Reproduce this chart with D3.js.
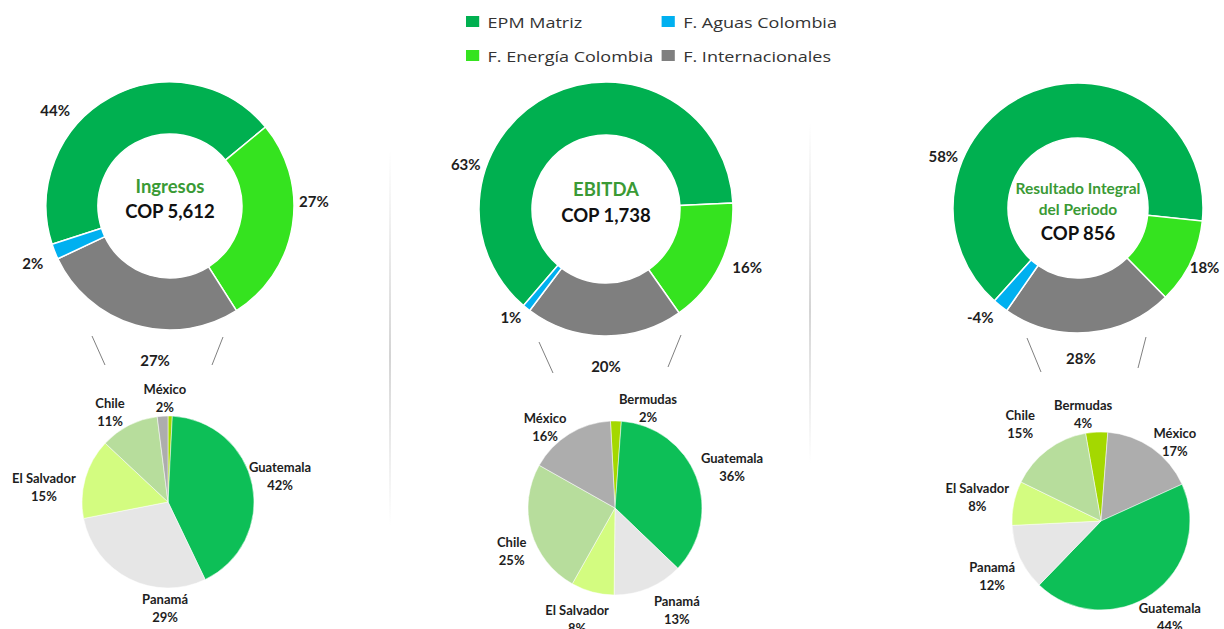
<!DOCTYPE html>
<html>
<head>
<meta charset="utf-8">
<script src="https://cdn.jsdelivr.net/npm/d3@7"></script>
<style>
  body { margin: 0; background: #fff; }
  svg { display: block; }
</style>
</head>
<body>
<svg id="chart"></svg>
<script>
// ---- data ----
const seriesNames = ["EPM Matriz", "F. Aguas Colombia", "F. Energía Colombia", "F. Internacionales"];
const seriesColors = ["#00b050", "#00b0f0", "#35e31f", "#7f7f7f"];

// donut slices, clockwise order
const donutOrder = ["EPM Matriz", "F. Energía Colombia", "F. Internacionales", "F. Aguas Colombia"];
const donutTitles = [["Ingresos"], ["EBITDA"], ["Resultado Integral", "del Periodo"]];
const donutTotals = ["COP 5,612", "COP 1,738", "COP 856"];
const ingresosShare = [44, 27, 27, 2];
const ebitdaShare = [63, 16, 20, 1];
const resultadoShare = [65, 11, 22, 2];          // slice sizes as drawn
const ingresosLabels = ["44%", "27%", "27%", "2%"];
const ebitdaLabels = ["63%", "16%", "20%", "1%"];
const resultadoLabels = ["58%", "18%", "28%", "-4%"];

// breakdown of F. Internacionales
const ingresosCountries = ["Bermudas", "Guatemala", "Panamá", "El Salvador", "Chile", "México"];
const ingresosCountryShare = [0.8, 42, 29, 15, 11, 2];
const ingresosCountryLabels = ["", "42%", "29%", "15%", "11%", "2%"];
const ebitdaCountries = ["Bermudas", "Guatemala", "Panamá", "El Salvador", "Chile", "México"];
const ebitdaCountryShare = [2, 36, 13, 8, 25, 16];
const ebitdaCountryLabels = ["2%", "36%", "13%", "8%", "25%", "16%"];
const resultadoCountries = ["Bermudas", "México", "Guatemala", "Panamá", "El Salvador", "Chile"];
const resultadoCountryShare = [4, 17, 44, 12, 8, 15];
const resultadoCountryLabels = ["4%", "17%", "44%", "12%", "8%", "15%"];

const countryColors = {
    "Guatemala": "#0dbf57",
    "Panamá": "#e6e6e6",
    "El Salvador": "#d3fc80",
    "Chile": "#b7dd9c",
    "México": "#adadad",
    "Bermudas": "#a4d800"
};

// ---- layout ----
const W = 1224, H = 629;
const donutLayout = [
    { cx: 170, cy: 206, r: 124, r0: 72, start: -108,
      lab: [[309.6, 149], [88.4, 144], [185.5, 156], [247, 149]],
      lines: [[[-78, 130], [-65, 159]], [[53, 131], [42, 159]]],
      titleY: [-13], totalY: 12, titleSize: 18.5 },
    { cx: 606, cy: 209, r: 127, r0: 74, start: -139.5,
      lab: [[287.4, 147], [112.7, 153], [180, 158], [221, 145]],
      lines: [[[-67, 133], [-53, 164]], [[75, 126], [62, 158]]],
      titleY: [-13], totalY: 13, titleSize: 18.5 },
    { cx: 1078, cy: 208, r: 125, r0: 70, start: -138,
      lab: [[290.7, 144], [115.3, 140], [178.9, 151], [221.7, 147]],
      lines: [[[-51, 130], [-37, 164]], [[68, 129], [60, 160]]],
      titleY: [-14, 7], totalY: 32, titleSize: 15.5 }
];
const pieLayout = [
    { cx: 168, cy: 502, r: 86, start: 0,
      lab: [[0, 0], [76.9, 115], [181.6, 106], [276.9, 125], [327.2, 107], [358.3, 104]] },
    { cx: 615, cy: 508, r: 87, start: -3,
      lab: [[18.3, 105], [70.7, 124], [148.7, 119], [198.9, 117], [247.3, 112], [319.2, 107]] },
    { cx: 1101, cy: 521, r: 89, start: -10,
      lab: [[350.5, 108], [43.1, 108], [144.3, 118], [243.2, 122], [281, 126], [320.1, 126]] }
];
// faint panel dividers: x, top, bottom
const dividers = [[390, 150, 525], [810, 123, 463]];

const donuts = [
    { values: ingresosShare, labels: ingresosLabels },
    { values: ebitdaShare, labels: ebitdaLabels },
    { values: resultadoShare, labels: resultadoLabels }
];
const pies = [
    { names: ingresosCountries, values: ingresosCountryShare, labels: ingresosCountryLabels },
    { names: ebitdaCountries, values: ebitdaCountryShare, labels: ebitdaCountryLabels },
    { names: resultadoCountries, values: resultadoCountryShare, labels: resultadoCountryLabels }
];

const color = d3.scaleOrdinal().domain(seriesNames).range(seriesColors);
const rad = deg => deg * Math.PI / 180;
const polar = (cx, cy, a, d) => [cx + d * Math.sin(rad(a)), cy - d * Math.cos(rad(a))];

const svg = d3.select("#chart").attr("width", W).attr("height", H);
const labelFont = "Lato, 'Open Sans', sans-serif";

// ---- dividers ----
const grad = svg.append("defs").append("linearGradient")
    .attr("id", "fade").attr("x1", 0).attr("y1", 0).attr("x2", 0).attr("y2", 1);
grad.append("stop").attr("offset", "0%").attr("stop-color", "#d4d4d4").attr("stop-opacity", 0);
grad.append("stop").attr("offset", "55%").attr("stop-color", "#d4d4d4").attr("stop-opacity", 1);
grad.append("stop").attr("offset", "100%").attr("stop-color", "#d4d4d4").attr("stop-opacity", 0);
svg.selectAll(".divider")
    .data(dividers)
    .enter().append("rect")
    .attr("class", "divider")
    .attr("x", d => d[0] - 1).attr("y", d => d[1])
    .attr("width", 2).attr("height", d => d[2] - d[1])
    .attr("fill", "url(#fade)");

// ---- legend ----
const legend = svg.append("g").attr("transform", "translate(466,0) scale(1.2,1)");
const legendItems = legend.selectAll("g")
    .data(seriesNames)
    .enter().append("g")
    .attr("transform", (d, i) => `translate(${(i % 2) * 163},${Math.floor(i / 2) * 34})`);
legendItems.append("rect")
    .attr("x", 0).attr("y", 16)
    .attr("width", 11).attr("height", 11)
    .attr("fill", d => color(d));
legendItems.append("text")
    .attr("x", 18).attr("y", 28)
    .style("font-family", "'Open Sans', sans-serif")
    .style("font-size", "15px")
    .style("fill", "#333")
    .text(d => d);

// ---- donuts ----
donuts.forEach((chart, k) => {
    const L = donutLayout[k];
    const g = svg.append("g").attr("transform", `translate(${L.cx},${L.cy})`);

    const pie = d3.pie().sort(null).value(d => d.v)
        .startAngle(rad(L.start)).endAngle(rad(L.start + 360));
    const arcs = pie(donutOrder.map((name, i) => ({ name, v: chart.values[i], label: chart.labels[i] })));
    const arc = d3.arc().innerRadius(L.r0).outerRadius(L.r);

    g.selectAll("path")
        .data(arcs)
        .enter().append("path")
        .attr("d", arc)
        .attr("fill", d => color(d.data.name))
        .attr("stroke", "#fff")
        .attr("stroke-width", 1.5);

    g.selectAll(".pct")
        .data(arcs)
        .enter().append("text")
        .attr("class", "pct")
        .attr("x", (d, i) => polar(0, 0, L.lab[i][0], L.lab[i][1])[0])
        .attr("y", (d, i) => polar(0, 0, L.lab[i][0], L.lab[i][1])[1] + 5)
        .attr("text-anchor", "middle")
        .style("font-family", labelFont)
        .style("font-weight", "bold")
        .style("font-size", "15px")
        .style("fill", "#1e1e1e")
        .text(d => d.data.label);

    // lines fanning out to the breakdown pie
    g.selectAll(".conn")
        .data(L.lines)
        .enter().append("line")
        .attr("class", "conn")
        .attr("x1", d => d[0][0]).attr("y1", d => d[0][1])
        .attr("x2", d => d[1][0]).attr("y2", d => d[1][1])
        .attr("stroke", "#808080")
        .attr("stroke-width", 1);

    donutTitles[k].forEach((t, j) => {
        g.append("text")
            .attr("x", 0).attr("y", L.titleY[j])
            .attr("text-anchor", "middle")
            .style("font-family", labelFont)
            .style("font-weight", "bold")
            .style("font-size", L.titleSize + "px")
            .style("fill", "#3a9a35")
            .text(t);
    });
    g.append("text")
        .attr("x", 0).attr("y", L.totalY)
        .attr("text-anchor", "middle")
        .style("font-family", labelFont)
        .style("font-weight", "bold")
        .style("font-size", "18.5px")
        .style("fill", "#111")
        .text(donutTotals[k]);
});

// ---- country pies ----
pies.forEach((chart, k) => {
    const L = pieLayout[k];
    const g = svg.append("g").attr("transform", `translate(${L.cx},${L.cy})`);

    const pie = d3.pie().sort(null).value(d => d.v)
        .startAngle(rad(L.start)).endAngle(rad(L.start + 360));
    const arcs = pie(chart.names.map((name, i) => ({ name, v: chart.values[i], label: chart.labels[i] })));
    const arc = d3.arc().innerRadius(0).outerRadius(L.r);

    g.selectAll("path")
        .data(arcs)
        .enter().append("path")
        .attr("d", arc)
        .attr("fill", d => countryColors[d.data.name])
        .attr("stroke", "#fff")
        .attr("stroke-width", 0.5);

    const labels = g.selectAll(".lbl")
        .data(arcs.filter(d => d.data.label !== ""))
        .enter().append("text")
        .attr("class", "lbl")
        .attr("text-anchor", "middle")
        .style("font-family", labelFont)
        .style("font-weight", "bold")
        .style("font-size", "13px")
        .style("fill", "#1e1e1e")
        .attr("transform", d => {
            const i = arcs.indexOf(d);
            const p = polar(0, 0, L.lab[i][0], L.lab[i][1]);
            return `translate(${p[0]},${p[1]})`;
        });
    labels.append("tspan").attr("x", 0).attr("y", -4).text(d => d.data.name);
    labels.append("tspan").attr("x", 0).attr("y", 14).text(d => d.data.label);
});
</script>
</body>
</html>
